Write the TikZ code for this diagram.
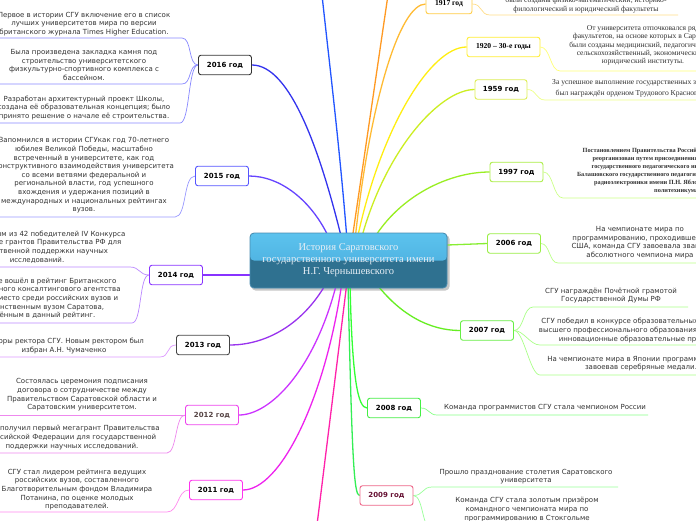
\documentclass[tikz,border=0pt]{standalone}
\usepackage{fontspec}
\setmainfont{DejaVu Sans}
\newfontfamily\serifx{Liberation Serif}
\pgfdeclarelayer{bg}
\pgfsetlayers{bg,main}
\definecolor{txt}{HTML}{333333}
\definecolor{ctop}{HTML}{5CC3EE}
\definecolor{cmid}{HTML}{45A6D8}
\definecolor{cbot}{HTML}{2F7190}
\definecolor{cborder}{HTML}{4A8CB0}
\definecolor{ctext}{HTML}{E6EEF5}
% year borders
\definecolor{k2016}{HTML}{333333}
\definecolor{k2015}{HTML}{5555FF}
\definecolor{k2014}{HTML}{8833FF}
\definecolor{k2013}{HTML}{444444}
\definecolor{k2012}{HTML}{EE44EE}
\definecolor{k2011}{HTML}{FF33EE}
\definecolor{k1917}{HTML}{FFCC44}
\definecolor{k1920}{HTML}{FFEE33}
\definecolor{k1959}{HTML}{DDEE55}
\definecolor{k1997}{HTML}{AAEE44}
\definecolor{k2006}{HTML}{99EE44}
\definecolor{k2007}{HTML}{66EE44}
\definecolor{k2008}{HTML}{44EE44}
\definecolor{k2009}{HTML}{EE6688}
\definecolor{x2012}{HTML}{554444}
\definecolor{x2009}{HTML}{661133}
% branches
\definecolor{btop}{HTML}{2255FF}
\definecolor{b2016}{HTML}{3333EE}
\definecolor{b2015}{HTML}{6644FF}
\definecolor{b2014}{HTML}{8833FF}
\definecolor{b2013}{HTML}{9933EE}
\definecolor{b2012}{HTML}{CC33FF}
\definecolor{b2011}{HTML}{EE22EE}
\definecolor{bpink}{HTML}{FF22AA}
\definecolor{b2009}{HTML}{33EE55}
\definecolor{b2008}{HTML}{33FF33}
\definecolor{b2007}{HTML}{66EE22}
\definecolor{b2006}{HTML}{88EE33}
\definecolor{b1997}{HTML}{99EE22}
\definecolor{b1959}{HTML}{CCEE22}
\definecolor{b1920}{HTML}{FFEE11}
\definecolor{b1917}{HTML}{FFBB33}
\definecolor{borange}{HTML}{FF9922}
% twigs
\definecolor{t2016}{HTML}{8888FF}
\definecolor{t2015}{HTML}{9999FF}
\definecolor{t2014}{HTML}{BB88FF}
\definecolor{t2013}{HTML}{DD99FF}
\definecolor{t2012}{HTML}{EE88EE}
\definecolor{t2011}{HTML}{FF88EE}
\definecolor{t1917}{HTML}{FFDD88}
\definecolor{t1920}{HTML}{FFFF77}
\definecolor{t1959}{HTML}{EEFF88}
\definecolor{t1997}{HTML}{CCFF88}
\definecolor{t2006}{HTML}{BBFF88}
\definecolor{t2007}{HTML}{AAFF88}
\definecolor{t2008}{HTML}{88FF88}
\definecolor{t2009}{HTML}{99FF99}
\begin{document}
\begin{tikzpicture}[x=1pt,y=-1pt,
  yr/.style={draw=#1, fill=white, rounded corners=2.5pt, line width=0.9pt,
    font=\fontsize{7}{8}\selectfont\bfseries, minimum height=19.5pt,
    minimum width=53pt, inner xsep=2pt, inner ysep=0pt},
  leaf/.style={font=\fontsize{7}{8.6}\selectfont, text=txt, align=center, inner sep=0pt},
  sleaf/.style={font=\serifx\fontsize{7.6}{8.3}\selectfont, text=txt, align=center, inner sep=0pt},
  br/.style={draw=#1, line width=1.3pt},
  tw/.style={draw=#1, line width=0.7pt}]
\useasboundingbox (0,0) rectangle (696,520);

% central node
\node[draw=cborder, line width=0.8pt, rounded corners=4pt, minimum width=197pt,
  minimum height=55pt, fill=cbot,
  path picture={\fill[top color=ctop, bottom color=cmid]
    (path picture bounding box.north west) rectangle (path picture bounding box.east);},
  font=\serifx\fontsize{10.5}{12}\selectfont, text=ctext, align=center]
  (c) at (348.5,260.5) {История Саратовского\\государственного университета имени\\Н.Г. Чернышевского};

% year nodes
\node[yr=k2016] (y2016) at (225,65) {2016 год};
\node[yr=k2015] (y2015) at (222,176) {2015 год};
\node[yr=k2014] (y2014) at (176,275) {2014 год};
\node[yr=k2013] (y2013) at (203,345) {2013 год};
\node[yr=k2012, text=x2012] (y2012) at (212,415) {2012 год};
\node[yr=k2011] (y2011) at (216,490) {2011 год};
\node[yr=k1917, font=\serifx\fontsize{7.6}{8}\selectfont\bfseries, minimum width=46pt] (y1917) at (449,4) {1917 год};
\node[yr=k1920, font=\serifx\fontsize{7.6}{8}\selectfont\bfseries, minimum width=73pt] (y1920) at (503.5,47) {1920 – 30-е годы};
\node[yr=k1959, minimum width=52pt] (y1959) at (501,89.5) {1959 год};
\node[yr=k1997] (y1997) at (516.5,172) {1997 год};
\node[yr=k2006] (y2006) at (514,243.5) {2006 год};
\node[yr=k2007] (y2007) at (487,330.5) {2007 год};
\node[yr=k2008] (y2008) at (394,408) {2008 год};
\node[yr=k2009, text=x2009] (y2009) at (386.5,495.5) {2009 год};

% leaf texts left
\node[leaf] (l16a) at (84,24) {Первое в истории СГУ включение его в список\\лучших университетов мира по версии\\британского журнала Times Higher Education.};
\node[leaf] (l16b) at (84,65) {Была произведена закладка камня под\\строительство университетского\\физкультурно-спортивного комплекса с\\бассейном.};
\node[leaf] (l16c) at (84,108) {Разработан архитектурный проект Школы,\\создана её образовательная концепция; было\\принято решение  о начале её строительства.};
\node[leaf] (l15) at (84,175.5) {Запомнился в истории СГУкак год 70-летнего\\юбилея Великой Победы, масштабно\\встреченный в университете, как год\\конструктивного взаимодействия университета\\со всеми ветвями федеральной и\\региональной власти, год успешного\\вхождения и удержания позиций в\\международных и национальных рейтингах\\вузов.};
\node[leaf] (l14a) at (37,247) {СГУ стал одним из 42 победителей IV Конкурса\\на получение грантов Правительства РФ для\\государственной поддержки научных\\исследований.};
\node[leaf] (l14b) at (36,298.5) {СГУ впервые вошёл в рейтинг Британского\\международного консалтингового агентства\\QS, заняв 9 место среди российских вузов и\\став единственным вузом Саратова,\\включённым в данный рейтинг.};
\node[leaf] (l13) at (64,346) {Выборы ректора СГУ. Новым ректором был\\избран А.Н. Чумаченко};
\node[leaf] (l12a) at (82,395) {Состоялась церемония подписания\\договора о сотрудничестве между\\Правительством Саратовской области и\\Саратовским университетом.};
\node[leaf] (l12b) at (72,437.5) {СГУ получил первый мегагрант Правительства\\Российской Федерации для государственной\\поддержки научных исследований.};
\node[leaf] (l11) at (77,489.5) {СГУ стал лидером рейтинга ведущих\\российских вузов, составленного\\Благотворительным фондом Владимира\\Потанина, по оценке молодых\\преподавателей.};

% leaf texts right
\node[sleaf] (r1917) at (586,5) {были созданы физико-математический, историко-\\филологический и юридический факультеты};
\node[sleaf] (r1920) at (643,45.5) {От университета отпочковался ряд\\факультетов, на основе которых в Саратове\\были созданы медицинский, педагогический,\\сельскохозяйственный, экономический и\\юридический институты.};
\node[sleaf, font=\serifx\fontsize{7.6}{11}\selectfont] (r1959) at (644,88.5) {За успешное выполнение государственных заданий СГУ\\был награждён орденом Трудового Красного Знамени.};
\node[sleaf, font=\serifx\fontsize{6.3}{8}\selectfont\bfseries] (r1997) at (677,171) {Постановлением Правительства Российской Федерации СГУ был\\реорганизован путем присоединения к нему Балашовского\\государственного педагогического института, Саратовского\\Балашовского государственного педагогического колледжа, колледжа\\радиоэлектроники имени П.Н. Яблочкова и Саратовского\\политехникума.};
\node[leaf] (r2006) at (640,242.5) {На чемпионате мира по\\программированию, проходившем в\\США, команда СГУ завоевала звание\\абсолютного чемпиона мира};
\node[leaf] (r2007a) at (611,295.5) {СГУ награждён  Почётной грамотой\\Государственной Думы РФ};
\node[leaf] (r2007b) at (644,330.5) {СГУ победил в конкурсе образовательных учреждений\\высшего профессионального образования, внедряющих\\инновационные образовательные программы};
\node[leaf] (r2007c) at (641,363.5) {На чемпионате мира в Японии программисты СГУ,\\завоевав серебряные медали.};
\node[leaf] (r2008) at (545,408) {Команда программистов СГУ стала чемпионом России};
\node[leaf] (r2009a) at (526,476.5) {Прошло празднование столетия Саратовского\\университета};
\node[leaf] (r2009b) at (527,509.5) {Команда СГУ стала золотым призёром\\командного чемпионата мира по\\программированию в Стокгольме};

% coordinates
\coordinate (sTop) at (347,240);
\coordinate (eTop) at (322,-5);
\coordinate (sOr) at (352,240);
\coordinate (eOr) at (388,-5);
\coordinate (sPink) at (347,282);
\coordinate (ePink) at (317,525);
\coordinate (s2016) at (342,240);
\coordinate (s2015) at (330,240);
\coordinate (s1917) at (355,240);
\coordinate (s1920) at (357,240);
\coordinate (s1959) at (361,240);
\coordinate (s1997) at (373,240);
\coordinate (s2007) at (375,282);
\coordinate (s2008) at (350,282);
\coordinate (s2009) at (348,282);
\coordinate (s2011) at (342,282);
\coordinate (s2012) at (337,282);
\coordinate (s2013) at (327,282);

\begin{pgfonlayer}{bg}
\fill[white] (0,0) rectangle (696,520);
\fill[black!22, rounded corners=4pt] (251.5,235) rectangle (449.5,290.5);
% branches
\draw[br=btop] (sTop) .. controls (340,150) and (329,60) .. (eTop);
\draw[br=borange] (sOr) -- (eOr);
\draw[br=bpink] (sPink) -- (ePink);
\draw[br=b2016] (s2016) .. controls (320,150) and (290,65) .. (y2016.east);
\draw[br=b2015] (s2015) .. controls (312,200) and (280,176) .. (y2015.east);
\draw[br=b2014] (c.west |- y2014) -- (y2014.east);
\draw[br=b2013] (s2013) .. controls (300,330) and (260,345) .. (y2013.east);
\draw[br=b2012] (s2012) .. controls (315,370) and (270,415) .. (y2012.east);
\draw[br=b2011] (s2011) .. controls (325,400) and (280,490) .. (y2011.east);
\draw[br=b1917] (s1917) .. controls (370,100) and (400,4) .. (y1917.west);
\draw[br=b1920] (s1920) .. controls (380,130) and (430,47) .. (y1920.west);
\draw[br=b1959] (s1959) .. controls (385,150) and (440,89.5) .. (y1959.west);
\draw[br=b1997] (s1997) .. controls (400,195) and (450,172) .. (y1997.west);
\draw[br=b2006] (c.east |- 0,245) -- (y2006.west);
\draw[br=b2007] (s2007) .. controls (400,315) and (430,330.5) .. (y2007.west);
\draw[br=b2008] (s2008) .. controls (352,380) and (358,408) .. (y2008.west);
\draw[br=b2009] (s2009) .. controls (352,460) and (354,495.5) .. (y2009.west);
% twigs left
\coordinate (u16a) at (182,38);   \coordinate (w16a) at (-10,38);
\coordinate (u16b) at (182,84);   \coordinate (w16b) at (-10,84);
\coordinate (u16c) at (180,123);  \coordinate (w16c) at (-10,123);
\coordinate (u15) at (175,217);   \coordinate (w15) at (-10,217);
\coordinate (u14a) at (130,267);  \coordinate (w14a) at (-10,267);
\coordinate (u14b) at (132,323);  \coordinate (w14b) at (-10,323);
\coordinate (u13) at (160,357);   \coordinate (w13) at (-10,357);
\coordinate (w12a) at (-10,415);
\coordinate (u12b) at (167,453);  \coordinate (w12b) at (-10,453);
\coordinate (u11) at (167,512);   \coordinate (w11) at (-10,512);
\draw[tw=t2016] (y2016.west) .. controls +(-10,0) and +(10,0) .. (u16a) -- (w16a);
\draw[tw=t2016] (y2016.west) .. controls +(-10,0) and +(10,0) .. (u16b) -- (w16b);
\draw[tw=t2016] (y2016.west) .. controls +(-10,0) and +(10,0) .. (u16c) -- (w16c);
\draw[tw=t2015] (y2015.west) .. controls +(-12,0) and +(12,0) .. (u15) -- (w15);
\draw[tw=t2014] (y2014.west) .. controls +(-10,0) and +(10,0) .. (u14a) -- (w14a);
\draw[tw=t2014] (y2014.west) .. controls +(-10,0) and +(10,0) .. (u14b) -- (w14b);
\draw[tw=t2013] (y2013.west) .. controls +(-10,0) and +(10,0) .. (u13) -- (w13);
\draw[tw=t2012] (y2012.west) -- (w12a);
\draw[tw=t2012] (y2012.west) .. controls +(-10,0) and +(10,0) .. (u12b) -- (w12b);
\draw[tw=t2011] (y2011.west) .. controls +(-12,0) and +(12,0) .. (u11) -- (w11);
% twigs right
\coordinate (u1917) at (490,15);  \coordinate (w1917) at (678,15);
\coordinate (u1920) at (560,71);  \coordinate (w1920) at (710,71);
\coordinate (u1959) at (545,100); \coordinate (w1959) at (710,100);
\coordinate (u1997) at (563,198); \coordinate (w1997) at (710,198);
\coordinate (u2006) at (558,263); \coordinate (w2006) at (710,263);
\coordinate (u2007a) at (533,307); \coordinate (w2007a) at (688,307);
\coordinate (u2007b) at (540,345); \coordinate (w2007b) at (710,345);
\coordinate (u2007c) at (540,375); \coordinate (w2007c) at (710,375);
\coordinate (u2008) at (437,415); \coordinate (w2008) at (648,415);
\coordinate (u2009a) at (432,487); \coordinate (w2009a) at (618,487);
\coordinate (u2009b) at (432,530); \coordinate (w2009b) at (620,530);
\draw[tw=t1917] (y1917.east) .. controls +(10,0) and +(-10,0) .. (u1917) -- (w1917);
\draw[tw=t1920] (y1920.east) .. controls +(10,0) and +(-10,0) .. (u1920) -- (w1920);
\draw[tw=t1959] (y1959.east) .. controls +(9,0) and +(-9,0) .. (u1959) -- (w1959);
\draw[tw=t1997] (y1997.east) .. controls +(10,0) and +(-10,0) .. (u1997) -- (w1997);
\draw[tw=t2006] (y2006.east) .. controls +(9,0) and +(-9,0) .. (u2006) -- (w2006);
\draw[tw=t2007] (y2007.east) .. controls +(10,0) and +(-10,0) .. (u2007a) -- (w2007a);
\draw[tw=t2007] (y2007.east) .. controls +(10,0) and +(-10,0) .. (u2007b) -- (w2007b);
\draw[tw=t2007] (y2007.east) .. controls +(10,0) and +(-10,0) .. (u2007c) -- (w2007c);
\draw[tw=t2008] (y2008.east) .. controls +(8,0) and +(-8,0) .. (u2008) -- (w2008);
\draw[tw=t2009] (y2009.east) .. controls +(10,0) and +(-10,0) .. (u2009a) -- (w2009a);
\draw[tw=t2009] (y2009.east) .. controls +(10,0) and +(-10,0) .. (u2009b) -- (w2009b);
\end{pgfonlayer}
\end{tikzpicture}
\end{document}
